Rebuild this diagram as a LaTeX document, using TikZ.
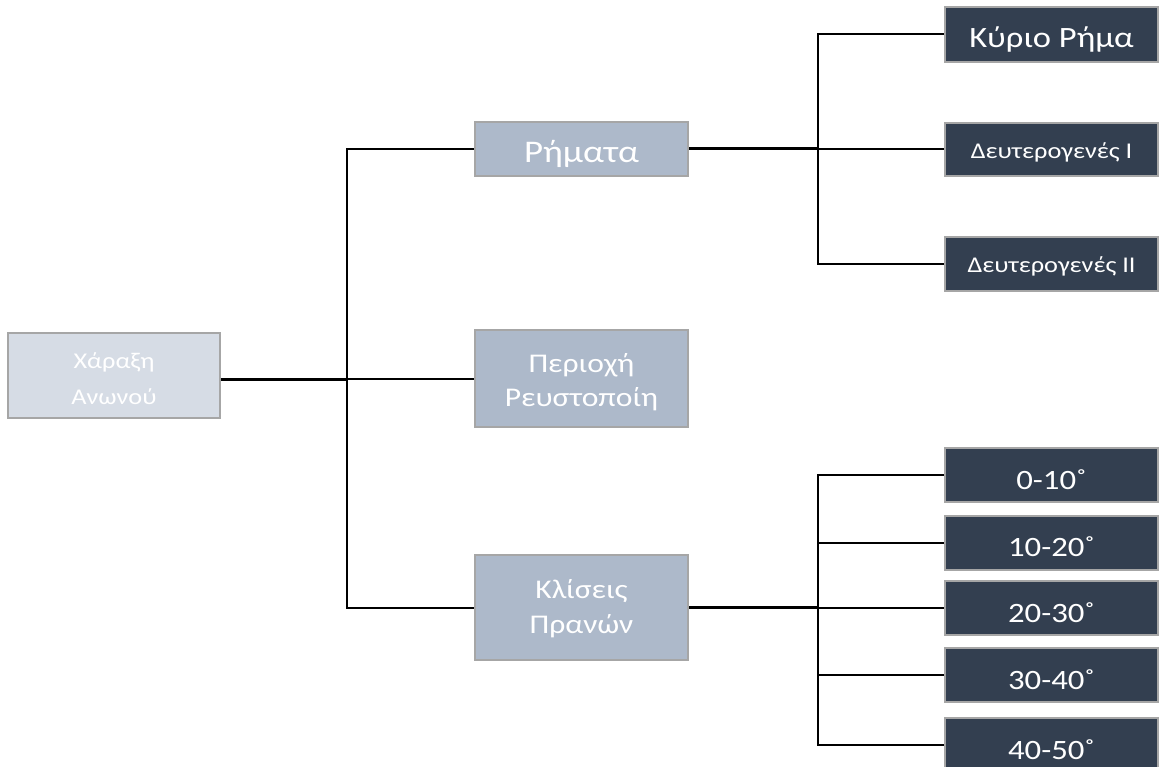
\documentclass[tikz,border=0pt]{standalone}
\usepackage{fontspec}
\setmainfont[FakeStretch=1.17]{Carlito}
\definecolor{rootfill}{HTML}{D6DCE5}
\definecolor{midfill}{HTML}{ADB9CA}
\definecolor{leaffill}{HTML}{333F50}
\definecolor{boxedge}{HTML}{A6A6A6}
\newcommand\lowertwo[3]{\raisebox{-#1}[\height][\depth]{\begin{tabular}{@{}c@{}}#2\\#3\end{tabular}}}
\begin{document}
\begin{tikzpicture}[x=1pt,y=-1pt,
  box/.style={draw=boxedge, line width=2pt, text=white, align=center, inner sep=0pt,
    minimum width=213pt},
  rootbox/.style={box, fill=rootfill, minimum width=212pt, font=\fontsize{22.5}{36}\selectfont},
  midbox/.style={box, fill=midfill, font=\fontsize{27}{35}\selectfont},
  leafbox/.style={box, fill=leaffill, font=\fontsize{28}{34}\selectfont},
  conn/.style={draw=black, line width=2pt},
  thickconn/.style={draw=black, line width=3pt}]
\useasboundingbox (0,0) rectangle (1165,767);
\begin{scope}
\clip (0,0) rectangle (1165,767);
\node[rootbox, minimum height=85pt] (root) at (114,375.5) {\lowertwo{4pt}{Χάραξη}{Ανωνού}};
\node[midbox, minimum height=54pt, font=\fontsize{31.5}{36}\selectfont, text height=28pt, text depth=0pt] (verbs) at (581.5,149) {Ρήματα};
\node[midbox, minimum height=97pt] (area) at (581.5,378.5) {\lowertwo{4pt}{Περιοχή}{Ρευστοποίη}};
\node[midbox, minimum height=105pt] (slopes) at (581.5,607.5) {\lowertwo{1pt}{Κλίσεις}{Πρανών}};
\node[leafbox, minimum height=55pt, font=\fontsize{29.5}{34}\selectfont, text height=27pt, text depth=0pt] (main) at (1051.5,34.5) {Κύριο Ρήμα};
\node[leafbox, minimum height=53pt, font=\fontsize{22.5}{26}\selectfont, text height=19pt, text depth=0pt] (sec1) at (1051.5,149.5) {Δευτερογενές Ι};
\node[leafbox, minimum height=54pt, font=\fontsize{22.5}{26}\selectfont, text height=18pt, text depth=0pt] (sec2) at (1051.5,264) {Δευτερογενές ΙΙ};
\node[leafbox, minimum height=54pt, text height=28pt, text depth=0pt] (b1) at (1051.5,475) {0-10˚};
\node[leafbox, minimum height=54pt, text height=28pt, text depth=0pt] (b2) at (1051.5,542.5) {10-20˚};
\node[leafbox, minimum height=54pt, text height=28pt, text depth=0pt] (b3) at (1051.5,608) {20-30˚};
\node[leafbox, minimum height=54pt, text height=28pt, text depth=0pt] (b4) at (1051.5,675) {30-40˚};
\node[leafbox, minimum height=54pt, text height=28pt, text depth=0pt] (b5) at (1051.5,745) {40-50˚};
\coordinate (j0) at (347,379);
\coordinate (j1) at (818,149);
\coordinate (j2) at (818,607.5);
\draw[thickconn] (j0 -| root.east) -- (j0);
\draw[conn] (j0) |- (verbs.west);
\draw[conn] (j0) |- (area.west);
\draw[conn] (j0) |- (slopes.west);
\draw[thickconn] (verbs.east) -- (j1);
\draw[conn] (j1) |- (main.west);
\draw[conn] (j1) |- (sec1.west);
\draw[conn] (j1) |- (sec2.west);
\draw[thickconn] (slopes.east) -- (j2);
\draw[conn] (j2) |- (b1.west);
\draw[conn] (j2) |- (b2.west);
\draw[conn] (j2) |- (b3.west);
\draw[conn] (j2) |- (b4.west);
\draw[conn] (j2) |- (b5.west);
\end{scope}
\end{tikzpicture}
\end{document}
